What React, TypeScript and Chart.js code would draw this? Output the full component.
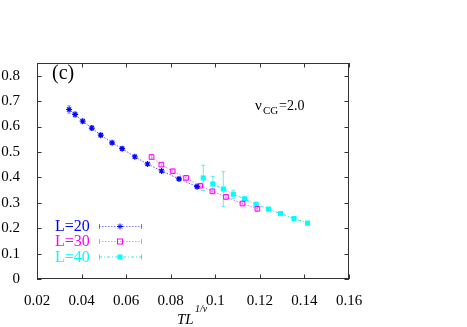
import React, { useEffect, useRef } from "react";
import { Chart, registerables } from "chart.js";

Chart.register(...registerables);

const xTicks = [0.02, 0.04, 0.06, 0.08, 0.1, 0.12, 0.14, 0.16];
const yTicks = [0, 0.1, 0.2, 0.3, 0.4, 0.5, 0.6, 0.7, 0.8];

const l20X = [0.0344, 0.0371, 0.0405, 0.0446, 0.0486, 0.0537, 0.0582, 0.0639, 0.0696, 0.0759, 0.0837, 0.0918];
const l20Y = [0.667, 0.6475, 0.621, 0.594, 0.566, 0.536, 0.513, 0.481, 0.4525, 0.425, 0.394, 0.3635];
const l20Err = [0.015, 0.01, 0.009, 0.009, 0.008, 0.007, 0.007, 0.007, 0.006, 0.006, 0.006, 0.006];

const l30X = [0.0714, 0.0758, 0.0809, 0.0869, 0.0932, 0.0987, 0.1048, 0.1122, 0.1189];
const l30Y = [0.48, 0.45, 0.424, 0.398, 0.367, 0.345, 0.323, 0.297, 0.276];
const l30Err = [0.008, 0.007, 0.007, 0.007, 0.006, 0.006, 0.006, 0.006, 0.006];

const l40X = [0.0946, 0.0989, 0.1036, 0.1081, 0.1131, 0.1183, 0.1239, 0.1293, 0.1353, 0.1414];
const l40Y = [0.3976, 0.374, 0.354, 0.3336, 0.315, 0.294, 0.275, 0.2575, 0.238, 0.22];
const l40Err = [0.05, 0.03, 0.068, 0.016, 0.01, 0.006, 0.004, 0.004, 0.004, 0.004];

const seriesLabels = ["L=20", "L=30", "L=40"];
const BLUE = "rgb(0,0,255)";
const MAGENTA = "rgb(255,0,255)";
const CYAN = "rgb(0,255,255)";
const FONT = '"Liberation Serif", "Times New Roman", "DejaVu Serif", serif';

function pts(xs: number[], ys: number[]) {
  return xs.map((x, i) => ({ x, y: ys[i] }));
}

const errs = [l20Err, l30Err, l40Err];

function drawMarker(ctx: CanvasRenderingContext2D, kind: number, x: number, y: number, color: string) {
  ctx.save();
  ctx.strokeStyle = color;
  ctx.fillStyle = color;
  ctx.lineWidth = 1;
  ctx.setLineDash([]);
  if (kind === 0) {
    const r = 3;
    ctx.beginPath();
    ctx.moveTo(x - r, y); ctx.lineTo(x + r, y);
    ctx.moveTo(x, y - r); ctx.lineTo(x, y + r);
    const d = r * 0.7071;
    ctx.moveTo(x - d, y - d); ctx.lineTo(x + d, y + d);
    ctx.moveTo(x - d, y + d); ctx.lineTo(x + d, y - d);
    ctx.stroke();
  } else if (kind === 1) {
    ctx.strokeRect(x - 2.5, y - 2.5, 5, 5);
  } else {
    ctx.fillRect(x - 2.5, y - 2.5, 5, 5);
  }
  ctx.restore();
}

const decorPlugin = {
  id: "decor",
  beforeDatasetsDraw(chart: any) {
    const ctx = chart.ctx as CanvasRenderingContext2D;
    const xs = chart.scales.x;
    const ys = chart.scales.y;
    const colors = ["rgba(60,60,255,0.45)", "rgba(255,80,255,0.5)", "rgba(0,230,230,0.6)"];
    chart.data.datasets.forEach((ds: any, di: number) => {
      ctx.save();
      ctx.strokeStyle = colors[di];
      ctx.lineWidth = 1;
      ds.data.forEach((p: any, i: number) => {
        const e = errs[di][i];
        const px = xs.getPixelForValue(p.x);
        const y1 = ys.getPixelForValue(p.y + e);
        const y2 = ys.getPixelForValue(p.y - e);
        ctx.beginPath();
        ctx.moveTo(px, y1); ctx.lineTo(px, y2);
        ctx.moveTo(px - 2, y1); ctx.lineTo(px + 2, y1);
        ctx.moveTo(px - 2, y2); ctx.lineTo(px + 2, y2);
        ctx.stroke();
      });
      ctx.restore();
    });
  },
  afterDraw(chart: any) {
    const ctx = chart.ctx as CanvasRenderingContext2D;
    const a = chart.chartArea;
    const xs = chart.scales.x;
    const ys = chart.scales.y;
    ctx.save();
    ctx.strokeStyle = "#333";
    ctx.lineWidth = 1;
    ctx.strokeRect(a.left + 0.5, a.top + 0.5, a.right - a.left - 1, a.bottom - a.top - 1);
    const tl = 4.5;
    ctx.beginPath();
    xTicks.forEach((v) => {
      const px = Math.round(xs.getPixelForValue(v)) + 0.5;
      ctx.moveTo(px, a.bottom); ctx.lineTo(px, a.bottom - tl);
      ctx.moveTo(px, a.top); ctx.lineTo(px, a.top + tl);
    });
    yTicks.forEach((v) => {
      const py = Math.round(ys.getPixelForValue(v)) + 0.5;
      ctx.moveTo(a.left, py); ctx.lineTo(a.left + tl, py);
      ctx.moveTo(a.right, py); ctx.lineTo(a.right - tl, py);
    });
    ctx.stroke();

    // panel label
    ctx.fillStyle = "#000";
    ctx.textAlign = "left";
    ctx.textBaseline = "alphabetic";
    ctx.font = `20px ${FONT}`;
    ctx.fillText("(c)", 52, 79);

    // annotation nu_CG = 2.0
    ctx.font = `15px ${FONT}`;
    ctx.fillText("ν", 255, 110);
    ctx.font = `11px ${FONT}`;
    ctx.fillText("CG", 263, 114);
    ctx.font = `14px ${FONT}`;
    ctx.fillText("=2.0", 279, 110);

    // x axis title
    ctx.font = `italic 15px ${FONT}`;
    ctx.fillText("TL", 177, 324);
    ctx.font = `italic 10px ${FONT}`;
    ctx.fillText("1/ν", 195, 312);

    // legend
    const rows = [226, 241, 256.5];
    const cols = [BLUE, MAGENTA, CYAN];
    const lineCols = ["rgba(60,60,255,0.7)", "rgba(255,80,255,0.7)", "rgba(0,230,230,0.8)"];
    ctx.font = `16px ${FONT}`;
    ctx.textBaseline = "middle";
    seriesLabels.forEach((lab, i) => {
      const y = rows[i];
      ctx.fillStyle = cols[i];
      ctx.fillText(lab, 55, y + 1);
      ctx.strokeStyle = lineCols[i];
      ctx.lineWidth = 1;
      ctx.setLineDash(i === 2 ? [3, 2, 1, 2] : [1.5, 1.5]);
      ctx.beginPath();
      ctx.moveTo(99, y + 0.5); ctx.lineTo(142, y + 0.5);
      ctx.stroke();
      ctx.setLineDash([]);
      ctx.beginPath();
      ctx.moveTo(99.5, y - 2); ctx.lineTo(99.5, y + 3);
      ctx.moveTo(141.5, y - 2); ctx.lineTo(141.5, y + 3);
      ctx.stroke();
      drawMarker(ctx, i, 120, y + 0.5, cols[i]);
    });
    ctx.restore();
  },
};

export default function App() {
  const ref = useRef<HTMLCanvasElement | null>(null);
  useEffect(() => {
    if (!ref.current) return;
    Chart.defaults.font.family = FONT;
    const chart = new Chart(ref.current, {
      type: "line",
      data: {
        datasets: [
          {
            label: seriesLabels[0],
            data: pts(l20X, l20Y),
            borderColor: "rgba(60,60,255,0.85)",
            borderWidth: 1,
            borderDash: [1.5, 1.5],
            pointStyle: "star",
            pointRadius: 3,
            pointBorderColor: BLUE,
            pointBackgroundColor: BLUE,
            pointBorderWidth: 1.2,
            fill: false,
            tension: 0,
          },
          {
            label: seriesLabels[1],
            data: pts(l30X, l30Y),
            borderColor: "rgba(255,80,255,0.85)",
            borderWidth: 1,
            borderDash: [1.5, 1.5],
            pointStyle: "rect",
            pointRadius: 3.3,
            pointBorderColor: MAGENTA,
            pointBackgroundColor: "rgba(255,255,255,0)",
            pointBorderWidth: 1,
            fill: false,
            tension: 0,
          },
          {
            label: seriesLabels[2],
            data: pts(l40X, l40Y),
            borderColor: "rgba(0,230,230,0.9)",
            borderWidth: 1,
            borderDash: [3, 2, 1, 2],
            pointStyle: "rect",
            pointRadius: 3.6,
            pointBorderColor: CYAN,
            pointBackgroundColor: CYAN,
            pointBorderWidth: 0,
            fill: false,
            tension: 0,
          },
        ],
      },
      options: {
        responsive: false,
        animation: false,
        layout: { padding: { left: 0, top: 63, right: 118, bottom: 0 } },
        plugins: { legend: { display: false }, tooltip: { enabled: false } },
        scales: {
          x: {
            type: "linear",
            min: 0.02,
            max: 0.16,
            grid: { display: false },
            border: { display: false },
            afterBuildTicks: (s: any) => { s.ticks = xTicks.map((v) => ({ value: v })); },
            afterFit: (s: any) => { s.height = 48; },
            ticks: {
              color: "#000",
              padding: 5,
              maxRotation: 0,
              autoSkip: false,
              font: { size: 15, family: FONT },
              callback: (v: any) => String(+Number(v).toFixed(2)),
            },
          },
          y: {
            type: "linear",
            min: 0,
            max: 0.85,
            grid: { display: false },
            border: { display: false },
            afterBuildTicks: (s: any) => { s.ticks = yTicks.map((v) => ({ value: v })); },
            afterFit: (s: any) => { s.width = 37; },
            ticks: {
              color: "#000",
              padding: 9,
              autoSkip: false,
              font: { size: 15, family: FONT },
              callback: (v: any) => String(+Number(v).toFixed(1)),
            },
          },
        },
      },
      plugins: [decorPlugin],
    });
    return () => chart.destroy();
  }, []);
  return (
    <div style={{ position: "fixed", left: 0, top: 0, width: 467, height: 327, background: "#fff" }}>
      <canvas ref={ref} width={467} height={327} style={{ display: "block", width: 467, height: 327 }} />
    </div>
  );
}
